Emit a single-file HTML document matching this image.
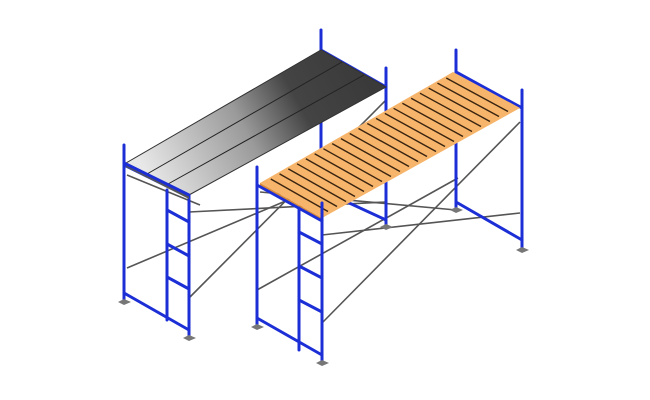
<!DOCTYPE html>
<html><head><meta charset="utf-8"><style>html,body{margin:0;padding:0;background:#fff;width:650px;height:400px;overflow:hidden}</style></head>
<body>
<svg id="s" width="650" height="400" viewBox="0 0 650 400" xmlns="http://www.w3.org/2000/svg">
<defs>
<linearGradient id="mg" gradientUnits="userSpaceOnUse" x1="150" y1="180" x2="360" y2="65">
<stop offset="0" stop-color="#e8e8e8"/><stop offset="0.45" stop-color="#9a9a9a"/><stop offset="0.7" stop-color="#444"/><stop offset="1" stop-color="#3a3a3a"/>
</linearGradient>
</defs>
<g id="braces" stroke="#555" stroke-width="1.6" fill="none">
<line x1="127" y1="268" x2="321" y2="186"/>
<line x1="189" y1="298" x2="386" y2="100"/>
<line x1="189" y1="212" x2="386" y2="202"/>
<line x1="127" y1="175" x2="200" y2="205"/>
<line x1="322" y1="235" x2="520" y2="213"/>
<line x1="257" y1="290" x2="458" y2="178"/>
<line x1="322" y1="323" x2="520" y2="122"/>
<line x1="260" y1="192" x2="456" y2="210"/>
</g>
<g id="blue" stroke="#1c2fd6" stroke-width="3" stroke-linecap="round" fill="none">
<!-- left scaffold -->
<line x1="321" y1="30" x2="321" y2="200"/>
<line x1="386" y1="68" x2="386" y2="227"/>
<line x1="321" y1="50" x2="386" y2="87"/>
<line x1="321" y1="190" x2="386" y2="220"/>
<line x1="124" y1="145" x2="124" y2="302"/>
<line x1="189" y1="183" x2="189" y2="338"/>
<line x1="167" y1="190" x2="167" y2="320"/>
<line x1="124" y1="165" x2="189" y2="197"/>
<line x1="124" y1="293" x2="189" y2="330"/>
<line x1="167" y1="210" x2="189" y2="222"/>
<line x1="167" y1="244" x2="189" y2="256"/>
<line x1="167" y1="277" x2="189" y2="289"/>
<!-- right scaffold back -->
<line x1="456" y1="50" x2="456" y2="210"/>
<line x1="522" y1="90" x2="522" y2="250"/>
<line x1="456" y1="72" x2="522" y2="108"/>
<line x1="456" y1="202" x2="522" y2="240"/>
</g>
<polygon points="126,163 189,195 386,87 321,50" fill="url(#mg)" stroke="#333" stroke-width="1"/>
<polygon points="126,163 189,195 189,199 126,167" fill="#555"/>
<g stroke="#222" stroke-width="1">
<line x1="147" y1="174" x2="342" y2="62"/>
<line x1="168" y1="184" x2="364" y2="75"/>
</g>
<g stroke="#1c2fd6" stroke-width="3" stroke-linecap="round" fill="none">
<line x1="124" y1="163" x2="189" y2="195"/>
</g>
<polygon points="260,183 322,218 520,108 453,72" fill="#f6b56b"/>
<polygon points="260,183 322,218 322,222 260,187" fill="#d98a3a"/>
<g id="planks" stroke="#3a2410" stroke-width="1.4"></g>
<g stroke="#1c2fd6" stroke-width="3" stroke-linecap="round" fill="none">
<line x1="257" y1="167" x2="257" y2="327"/>
<line x1="322" y1="203" x2="322" y2="363"/>
<line x1="299" y1="208" x2="299" y2="350"/>
<line x1="257" y1="185" x2="322" y2="221"/>
<line x1="257" y1="318" x2="322" y2="355"/>
<line x1="299" y1="232" x2="322" y2="244"/>
<line x1="299" y1="266" x2="322" y2="278"/>
<line x1="299" y1="300" x2="322" y2="312"/>
</g>
<g fill="#777">
<polygon points="118,302 124,299 131,302 124,305"/>
<polygon points="183,338 189,335 196,338 189,341"/>
<polygon points="380,227 386,224 393,227 386,230"/>
<polygon points="251,327 257,324 264,327 257,330"/>
<polygon points="316,363 322,360 329,363 322,366"/>
<polygon points="450,210 456,207 463,210 456,213"/>
<polygon points="516,250 522,247 529,250 522,253"/>
</g>
</svg>
<script>
var g=document.getElementById('planks'),N=22;
var FL=[260,183],FR=[322,218],BR=[520,108],BL=[453,72];
for(var i=1;i<N;i++){var t=i/N;
var a=[FL[0]+t*(BL[0]-FL[0]),FL[1]+t*(BL[1]-FL[1])],b=[FR[0]+t*(BR[0]-FR[0]),FR[1]+t*(BR[1]-FR[1])];
var l=document.createElementNS('http://www.w3.org/2000/svg','line');
l.setAttribute('x1',a[0]+2);l.setAttribute('y1',a[1]+1);l.setAttribute('x2',b[0]-3);l.setAttribute('y2',b[1]-1.5);g.appendChild(l);}
</script>
</body></html>
